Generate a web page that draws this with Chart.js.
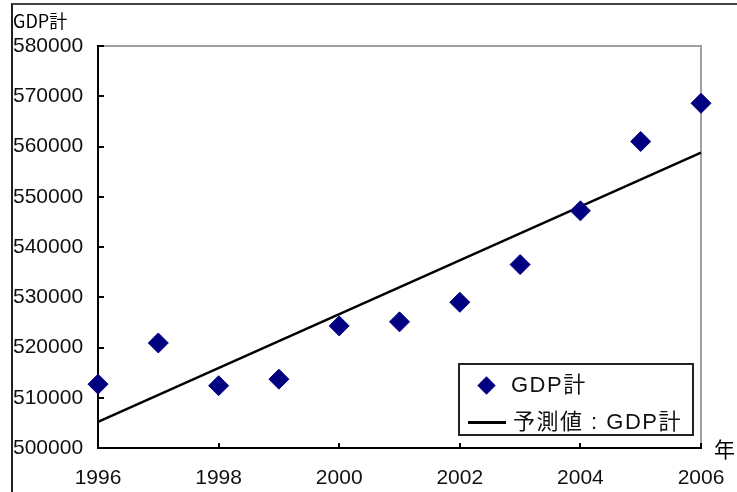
<!DOCTYPE html>
<html>
<head>
<meta charset="utf-8">
<script src="https://cdn.jsdelivr.net/npm/chart.js@4.4.1/dist/chart.umd.min.js"></script>
<style>
  html, body { margin: 0; padding: 0; background: #fff; overflow: hidden; }
  #wrap { position: relative; width: 737px; height: 492px; }
  #frame { position: absolute; left: 11px; top: 3px; width: 900px; height: 700px;
           border-left: 2px solid #222; border-top: 2px solid #444; box-sizing: border-box; }
  canvas { position: absolute; left: 0; top: 0; }
  .jp { font-family: "Noto Sans CJK JP", sans-serif; color: #000; position: absolute; white-space: nowrap; }
  #yTitle { left: 13px; top: 8px; font-size: 18px; line-height: 24px; }
  #xTitle { left: 714px; top: 435px; font-size: 21px; line-height: 26px; }
  #legend { position: absolute; left: 458px; top: 363px; width: 236px; height: 73px;
            border: 2px solid #222; box-sizing: border-box; background: #fff; }
  #legend .row { position: absolute; left: 0; height: 30px; width: 100%; }
  #legend .diamond { position: absolute; left: 20px; top: 9px; width: 13px; height: 13px;
                     background: #000080; transform: rotate(45deg); }
  #legend .dash { position: absolute; left: 8px; top: 14px; width: 38px; height: 3px; background: #000; }
  #legend .lbl { position: absolute; top: 0; font-family: "Liberation Sans", "Noto Sans CJK JP", sans-serif;
                 font-size: 22px; line-height: 30px; letter-spacing: 1.5px; color: #111; }
</style>
</head>
<body>
<div id="wrap">
  <div id="frame"></div>
  <canvas id="chartCanvas" width="737" height="492"></canvas>
  <div id="yTitle" class="jp">GDP計</div>
  <div id="xTitle" class="jp">年</div>
  <div id="legend">
    <div class="row" style="top:5px"><span class="diamond"></span><span class="lbl" style="left:51px">GDP計</span></div>
    <div class="row" style="top:42px"><span class="dash"></span><span class="lbl" style="left:53px">予測値 : GDP計</span></div>
  </div>
</div>
<script>
/* ---------- data ---------- */
const years     = [1996, 1997, 1998, 1999, 2000, 2001, 2002, 2003, 2004, 2005, 2006];
const gdpValues = [512700, 520900, 512400, 513700, 524300, 525100, 529000, 536500, 547200, 561000, 568600];

// regression line ("予測値"), endpoints as drawn
const trendYears  = [1996, 2006];
const trendValues = [505200, 558800];

const yTickValues = [500000, 510000, 520000, 530000, 540000, 550000, 560000, 570000, 580000];
const xTickValues = [1996, 1998, 2000, 2002, 2004, 2006];

const labelFont = { family: "'Liberation Sans Narrow', 'Liberation Sans', sans-serif", size: 21 };

/* ---------- plot frame + inward tick marks ---------- */
const framePlugin = {
  id: 'frame',
  beforeDatasetsDraw(chart) {
    const { ctx, chartArea: a, scales } = chart;
    ctx.save();
    // top + right edges: gray
    ctx.strokeStyle = '#a0a0a0';
    ctx.lineWidth = 2;
    ctx.beginPath();
    ctx.moveTo(a.left, a.top);
    ctx.lineTo(a.right, a.top);
    ctx.lineTo(a.right, a.bottom);
    ctx.stroke();
    // axes: black
    ctx.strokeStyle = '#000';
    ctx.beginPath();
    ctx.moveTo(a.left, a.top - 1);
    ctx.lineTo(a.left, a.bottom);
    ctx.lineTo(a.right + 1, a.bottom);
    ctx.stroke();
    // ticks pointing into the plot
    ctx.lineWidth = 2;
    ctx.beginPath();
    yTickValues.forEach(v => {
      const py = Math.round(scales.y.getPixelForValue(v));
      ctx.moveTo(a.left, py);
      ctx.lineTo(a.left + 6, py);
    });
    xTickValues.forEach(v => {
      const px = Math.round(scales.x.getPixelForValue(v));
      ctx.moveTo(px, a.bottom);
      ctx.lineTo(px, a.bottom - 5);
    });
    ctx.stroke();
    ctx.restore();
  }
};

const ctx = document.getElementById('chartCanvas').getContext('2d');

new Chart(ctx, {
  type: 'scatter',
  data: {
    datasets: [
      {
        label: 'GDP計',
        data: years.map((x, i) => ({ x, y: gdpValues[i] })),
        pointStyle: 'rectRot',
        pointRadius: 10,
        backgroundColor: '#000080',
        borderColor: '#000080',
        borderWidth: 1,
        clip: false,
      },
      {
        type: 'line',
        label: '予測値 : GDP計',
        data: trendYears.map((x, i) => ({ x, y: trendValues[i] })),
        borderColor: '#000',
        borderWidth: 2.4,
        pointRadius: 0,
        fill: false,
        clip: false,
      },
    ],
  },
  options: {
    responsive: false,
    animation: false,
    devicePixelRatio: 1,
    layout: { padding: { left: 13, right: 36, top: 46, bottom: 0 } },
    plugins: { legend: { display: false }, tooltip: { enabled: false } },
    scales: {
      x: {
        type: 'linear',
        min: 1996,
        max: 2006,
        // fixed height; end labels may overhang the padding
        afterFit: (s) => { s.height = 44; s.paddingLeft = 0; s.paddingRight = 0; },
        afterBuildTicks: (s) => { s.ticks = xTickValues.map(v => ({ value: v })); },
        grid: { display: false, drawTicks: false },
        border: { display: false },
        ticks: { font: labelFont, color: '#111', padding: 18, maxRotation: 0, autoSkip: false,
                 callback: (v) => String(v) },
      },
      y: {
        min: 500000,
        max: 580000,
        afterFit: (s) => { s.width = 85; },
        afterBuildTicks: (s) => { s.ticks = yTickValues.map(v => ({ value: v })); },
        grid: { display: false, drawTicks: false },
        border: { display: false },
        ticks: { font: labelFont, color: '#111', crossAlign: 'far', padding: 0, autoSkip: false,
                 callback: (v) => String(v) },
      },
    },
  },
  plugins: [framePlugin],
});
</script>
</body>
</html>
